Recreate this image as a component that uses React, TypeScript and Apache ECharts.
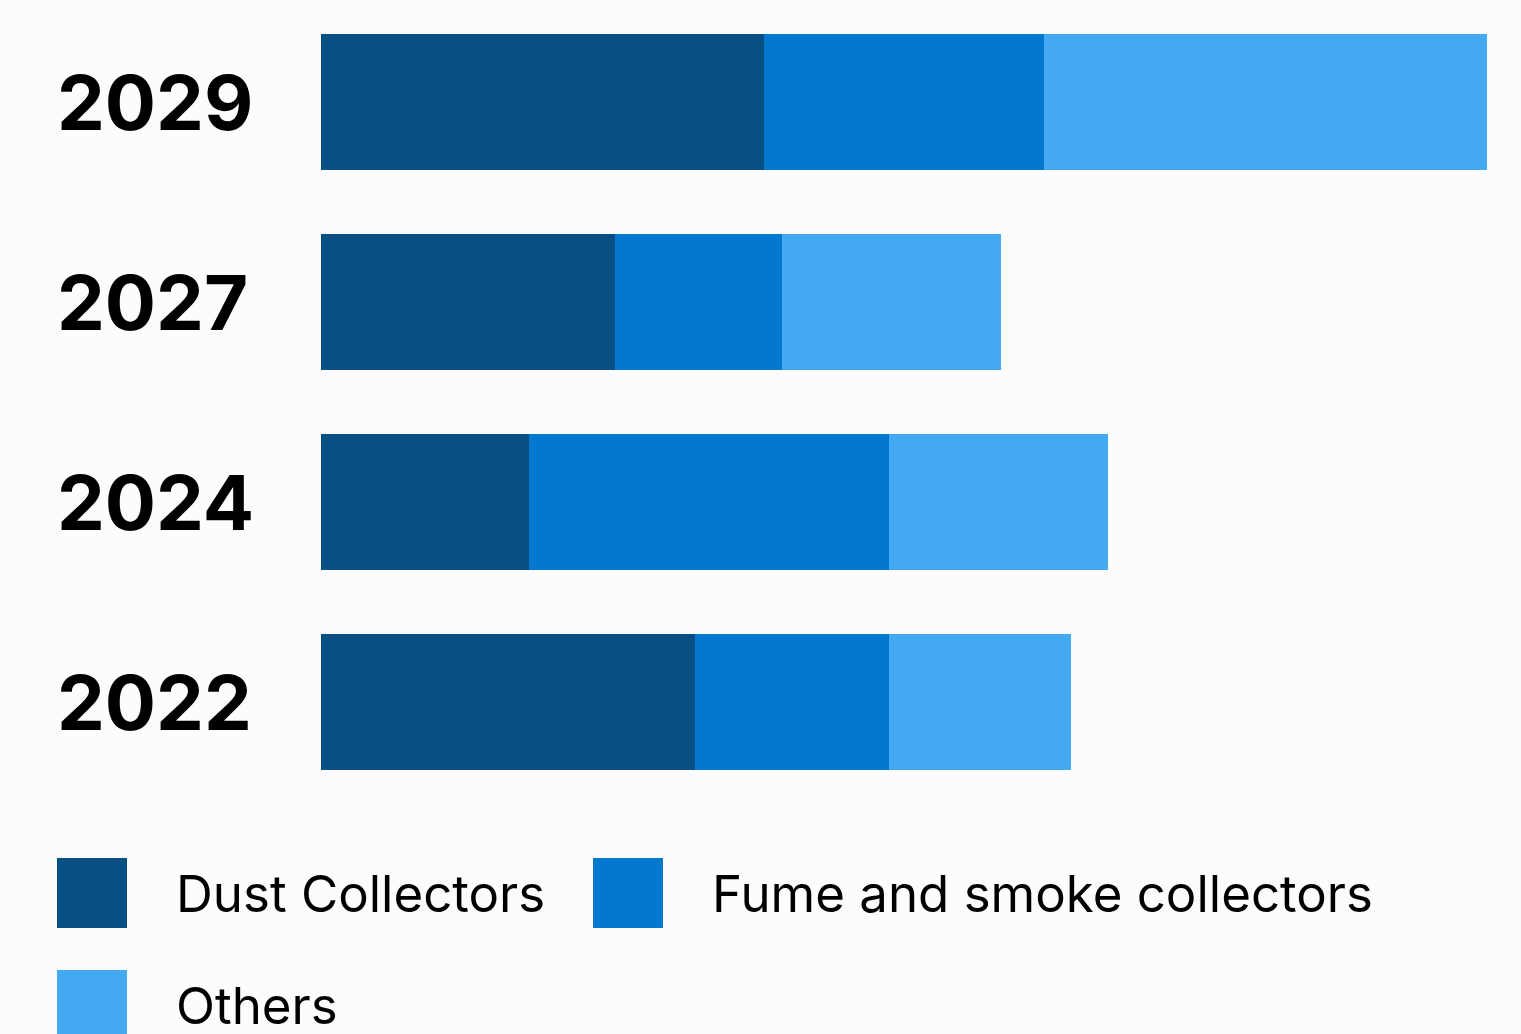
import React, { useEffect, useRef } from "react";
import * as echarts from "echarts";

const categories = ["2022", "2024", "2027", "2029"];
const seriesNames = ["Dust Collectors", "Fume and smoke collectors", "Others"];
const dustCollectors = [37.4, 20.8, 29.4, 44.3];
const fumeSmoke = [19.4, 36.0, 16.7, 28.0];
const others = [18.2, 21.9, 21.9, 44.3];
const colors = ["#084f83", "#0278cf", "#43a9f2"];

export default function App() {
  const ref = useRef<HTMLDivElement>(null);
  useEffect(() => {
    document.body.style.margin = "0";
    const chart = echarts.init(ref.current!, null, { renderer: "svg" });
    const values = [dustCollectors, fumeSmoke, others];
    const legendPos = [
      { left: 57, top: 858 },
      { left: 593, top: 858 },
      { left: 57, top: 970 },
    ];
    chart.setOption({
      animation: false,
      backgroundColor: "#fcfcfc",
      grid: { left: 321, right: 34, top: 2, height: 800, containLabel: false },
      xAxis: {
        type: "value",
        min: 0,
        max: 116.6,
        show: false,
      },
      yAxis: {
        type: "category",
        data: categories,
        axisLine: { show: false },
        axisTick: { show: false },
        splitLine: { show: false },
        axisLabel: {
          align: "left",
          margin: 264,
          fontSize: 76,
          fontWeight: "bold",
          fontFamily: "Inter",
          color: "#000",
        },
      },
      legend: seriesNames.map((name, i) => ({
        data: [name],
        left: legendPos[i].left,
        top: legendPos[i].top,
        orient: "horizontal",
        padding: 0,
        itemWidth: 70,
        itemHeight: 70,
        icon: "rect",
        selectedMode: false,
        textStyle: {
          fontSize: 51,
          fontFamily: "Inter",
          color: "#000",
          padding: [0, 0, 0, 44],
        },
      })),
      series: seriesNames.map((name, i) => ({
        name,
        type: "bar",
        stack: "total",
        barWidth: 136,
        itemStyle: { color: colors[i] },
        data: values[i],
      })),
    });
    return () => chart.dispose();
  }, []);
  return (
    <div
      ref={ref}
      style={{ position: "fixed", left: 0, top: 0, width: 1521, height: 1034 }}
    />
  );
}
